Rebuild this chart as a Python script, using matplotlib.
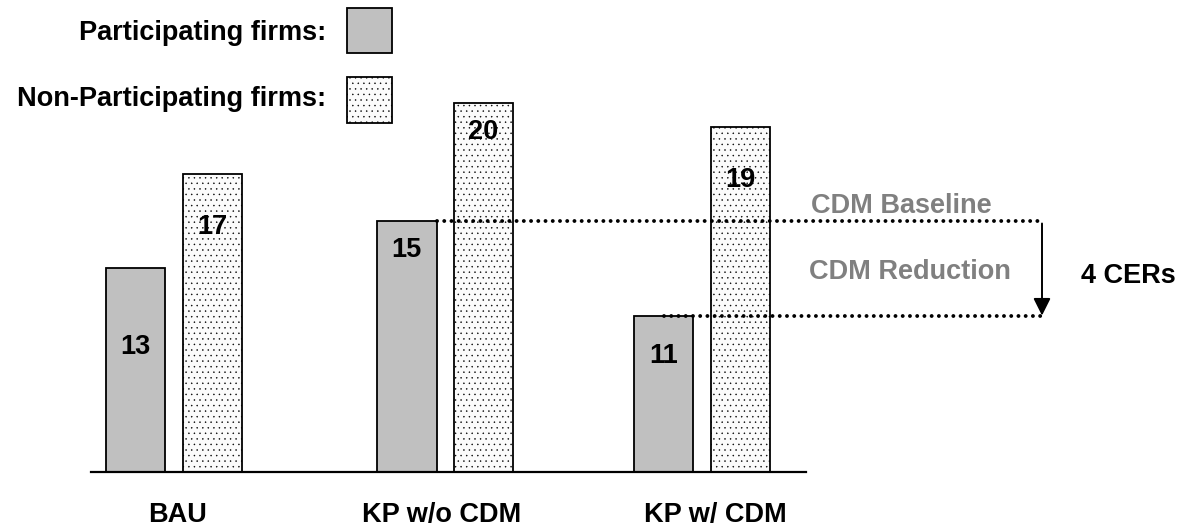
import numpy as np
import matplotlib
matplotlib.use("Agg")
import matplotlib.pyplot as plt
from matplotlib.patches import Rectangle
from matplotlib.transforms import blended_transform_factory

plt.rcParams["font.family"] = ["Liberation Sans", "DejaVu Sans"]
plt.rcParams["font.weight"] = "bold"
plt.rcParams["hatch.color"] = "#a8a8a8"
plt.rcParams["hatch.linewidth"] = 0.3

# --- data -------------------------------------------------------------
scenarios = ["BAU", "KP w/o CDM", "KP w/ CDM"]
participating = [13, 15, 11]
non_participating = [17, 20, 19]
series_names = ["Participating firms:", "Non-Participating firms:"]
baseline_label = "CDM Baseline"
reduction_label = "CDM Reduction"

# --- layout -----------------------------------------------------------
W, H = 1185, 529
group_x = np.array([0.0, 1.027, 2.0])
bar_w = 0.225
bar_off = 0.145
px_per_x = 264.0
x0_px = 174.0
base_px = 472.0
px_per_val = 23.6
val0 = 4.37

fig = plt.figure(figsize=(W / 100, H / 100), dpi=100)
ax = fig.add_axes([0, (H - base_px) / H, 1, base_px / H])
ax.set_xlim(-x0_px / px_per_x, (W - x0_px) / px_per_x)
ax.set_ylim(val0, val0 + base_px / px_per_val)

edge_lw = 1.3
ax.bar(group_x - bar_off, np.array(participating) - val0, bottom=val0,
       width=bar_w, color="#c0c0c0", edgecolor="black", linewidth=edge_lw,
       zorder=2)
ax.bar(group_x + bar_off, np.array(non_participating) - val0, bottom=val0,
       width=bar_w, color="#fbfbfb", edgecolor="black", linewidth=edge_lw,
       hatch="...", zorder=2)

# axes decoration: only a short baseline
for side in ["top", "right", "left"]:
    ax.spines[side].set_visible(False)
ax.spines["bottom"].set_linewidth(1.6)
ax.spines["bottom"].set_bounds((91 - x0_px) / px_per_x, (806 - x0_px) / px_per_x)
ax.set_xticks([])
ax.set_yticks([])
ax.patch.set_alpha(0)

# value labels inside the bars (drop from bar top, in pixels)
FS = 19.5
part_drop = [79, 29, 40]
non_drop = [53, 29, 53]
for gx, v, d in zip(group_x, participating, part_drop):
    ax.annotate(str(v), xy=(gx - bar_off, v), xytext=(0, -d * 0.72),
                textcoords="offset points", ha="center", va="center",
                fontsize=FS, fontweight="bold", zorder=4)
for gx, v, d in zip(group_x, non_participating, non_drop):
    ax.annotate(str(v), xy=(gx + bar_off, v), xytext=(0, -d * 0.72),
                textcoords="offset points", ha="center", va="center",
                fontsize=FS, fontweight="bold", zorder=4)

# CDM baseline / reduction guides
x_arrow = (1042 - x0_px) / px_per_x
hi = participating[1]
lo = participating[2]
dot_style = dict(color="black", linewidth=2.8, linestyle=(0, (0.01, 1.85)),
                 dash_capstyle="round", zorder=3)
ax.plot([group_x[1] - bar_off + bar_w / 2, x_arrow], [hi, hi], **dot_style)
ax.plot([group_x[2] - bar_off, x_arrow], [lo, lo], **dot_style)
ax.annotate("", xy=(x_arrow, lo), xytext=(x_arrow, hi - 0.1),
            arrowprops=dict(arrowstyle="-|>", color="black", lw=1.4,
                            mutation_scale=26, shrinkA=0, shrinkB=0),
            zorder=3)

ax.text((901 - x0_px) / px_per_x, val0 + (base_px - 206) / px_per_val,
        baseline_label, color="#808080", fontsize=FS, fontweight="bold",
        ha="center", va="center")
ax.text((910 - x0_px) / px_per_x, val0 + (base_px - 272) / px_per_val,
        reduction_label, color="#808080", fontsize=FS, fontweight="bold",
        ha="center", va="center")
ax.text((1128 - x0_px) / px_per_x, val0 + (base_px - 276) / px_per_val,
        f"{hi - lo} CERs", color="black", fontsize=FS, fontweight="bold",
        ha="center", va="center")

# scenario labels under the axis
lab_tr = blended_transform_factory(ax.transData, fig.transFigure)
label_x = group_x + np.array([0.015, -0.015, 0.05])
for lx, name in zip(label_x, scenarios):
    ax.text(lx, 1 - 515 / H, name, transform=lab_tr, ha="center",
            va="center", fontsize=FS, fontweight="bold")

# legend in the upper-left corner
def fpx(x, y):
    return x / W, 1 - y / H

fig.text(*fpx(326, 33), series_names[0], ha="right", va="center",
         fontsize=FS, fontweight="bold")
fig.text(*fpx(326, 99), series_names[1], ha="right", va="center",
         fontsize=FS, fontweight="bold")
bw, bh = 45 / W, 45 / H
fig.patches.append(Rectangle(fpx(347, 53), bw, bh, transform=fig.transFigure,
                             facecolor="#c0c0c0", edgecolor="black",
                             linewidth=edge_lw))
fig.patches.append(Rectangle(fpx(347, 123), bw, 46 / H, transform=fig.transFigure,
                             facecolor="#fbfbfb", edgecolor="black",
                             linewidth=edge_lw, hatch="..."))

fig.savefig("out.png", dpi=100)
